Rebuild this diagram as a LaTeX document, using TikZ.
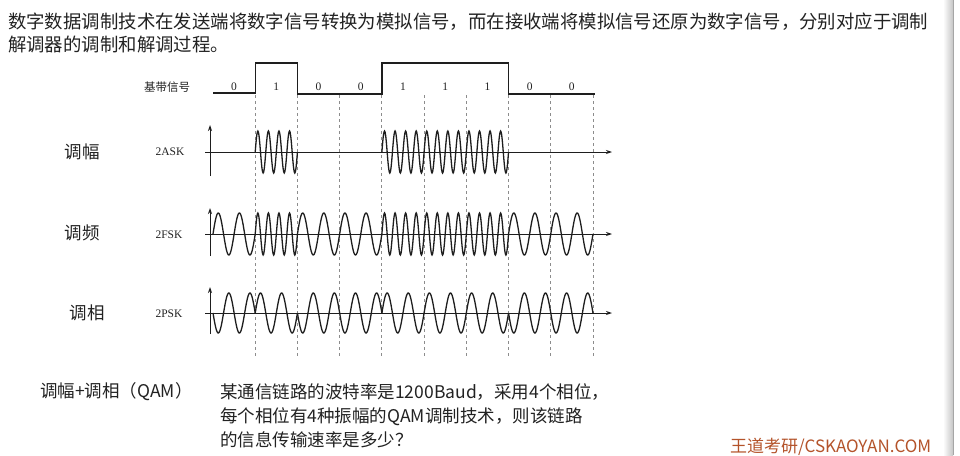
\documentclass[tikz,border=0pt]{standalone}
\usepackage{fontspec}
\setmainfont{Liberation Serif}
\newfontfamily\cjk{Noto Sans CJK SC}
\usetikzlibrary{arrows.meta}
\definecolor{WaveInk}{HTML}{1E1E1E}
\definecolor{GridGray}{HTML}{8C8C8C}
\definecolor{TextInk}{HTML}{222222}
\definecolor{WDOrange}{HTML}{B4532A}

\begin{document}
\begin{tikzpicture}[x=1pt,y=-1pt,
  txt/.style={font=\cjk\fontsize{18.4}{22}\selectfont,text=TextInk,anchor=west,inner sep=0},
  qtxt/.style={font=\cjk\fontsize{17.5}{22}\selectfont,text=TextInk,anchor=west,inner sep=0},
  side/.style={font=\cjk\fontsize{17.5}{20}\selectfont,text=TextInk,inner sep=0},
  tag/.style={font=\fontsize{11.5}{13}\selectfont,text=TextInk,inner sep=0},
  bitlab/.style={font=\fontsize{11.5}{13}\selectfont,text=TextInk,inner sep=0},
  wave/.style={line width=1.3pt,draw=WaveInk,smooth},
  ax/.style={line width=0.9pt,draw=WaveInk,-{Stealth[length=6pt,width=4pt]}},
  grid/.style={line width=0.8pt,draw=GridGray,dash pattern=on 3pt off 3pt}]
\useasboundingbox (0,0) rectangle (960,455);
\fill[white] (0,0) rectangle (960,455);
% slide edge on the right
\shade[left color=white,right color=gray!45] (943,0) rectangle (953,455);
\draw[gray!70,line width=0.8pt] (953.5,0) -- (953.5,455);

% intro text
\node[txt] (intro1) at (8,22) {数字数据调制技术在发送端将数字信号转换为模拟信号，而在接收端将模拟信号还原为数字信号，分别对应于调制};
\node[txt] (intro2) at (8,44) {解调器的调制和解调过程。};

% row labels
\node[font=\cjk\fontsize{11.5}{13}\selectfont,text=TextInk,inner sep=0] (base) at (167,87) {基带信号};
\node[side] (am) at (82,152) {调幅};
\node[side] (fm) at (82,233) {调频};
\node[side] (pm) at (87,313) {调相};
\node[tag] (ask) at (170,152) {2ASK};
\node[tag] (fsk) at (169,235) {2FSK};
\node[tag] (psk) at (169,314) {2PSK};

% bit boundaries
\foreach \k in {1,...,9}
  \draw[grid] ({213+42.22*\k},95) -- ({213+42.22*\k},356);

% axes
\draw[ax] (205,152) -- (612,152);
\draw[ax] (210,176) -- (210,125);
\draw[ax] (205,234) -- (612,234);
\draw[ax] (210,256) -- (210,208);
\draw[ax] (205,313) -- (612,313);
\draw[ax] (210,334) -- (210,287);

% baseband
\draw[line width=1.4pt,draw=WaveInk] (213,93) -- (255.2,93) -- (255.2,63) -- (297.4,63) -- (297.4,94)
  -- (381.9,94) -- (381.9,63) -- (508.7,63) -- (508.7,94) -- (595,94);

% waveforms
\foreach \b [count=\k from 0] in {0,1,0,0,1,1,1,0,0} {
  \pgfmathsetmacro\xa{213+42.22*\k}
  \pgfmathsetmacro\xb{\xa+42.22}
  \pgfmathsetmacro\fq{360*(2+2*\b)}
  \pgfmathsetmacro\sg{2*\b-1}
  \node[bitlab] (bit\k) at ({\xa+21.1},87) {\b};
  \ifnum\b=1
    \draw[wave] plot[domain=\xa:\xb,samples=81] (\x,{152-21*sin((\x-\xa)/42.22*1440)});
  \fi
  \draw[wave] plot[domain=\xa:\xb,samples=81] (\x,{234-21*sin((\x-\xa)/42.22*\fq)});
  \draw[wave] plot[domain=\xa:\xb,samples=61] (\x,{313-20*\sg*sin((\x-\xa)/42.22*720)});
}

% question
\node[qtxt] (qam) at (40,392) {调幅+调相（QAM）};
\node[qtxt] (q1) at (220,392) {某通信链路的波特率是1200Baud，采用4个相位，};
\node[qtxt] (q2) at (220,417) {每个相位有4种振幅的QAM调制技术，则该链路};
\node[qtxt] (q3) at (220,440) {的信息传输速率是多少？};

% watermark
\node[font=\cjk\fontsize{17}{20}\selectfont,text=WDOrange,anchor=base west,inner sep=0] (mark) at (730,452) {王道考研/CSKAOYAN.COM};
\end{tikzpicture}
\end{document}
